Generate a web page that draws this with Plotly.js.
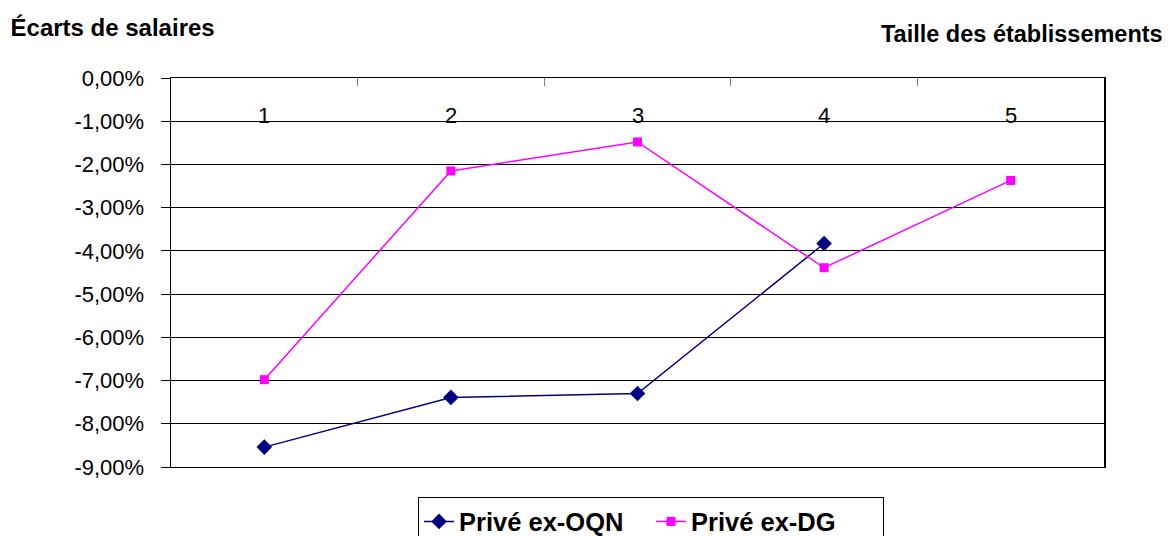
<!DOCTYPE html>
<html>
<head>
<meta charset="utf-8">
<script src="https://cdn.plot.ly/plotly-3.0.1.min.js"></script>
<style>html,body{margin:0;padding:0;background:#fff;}#chart{width:1171px;height:536px;}</style>
</head>
<body>
<div id="chart"></div>
<script>
const categories = ['1', '2', '3', '4', '5'];
const exOQN = [-8.54, -7.39, -7.30, -3.83, null];
const exDG = [-6.98, -2.15, -1.48, -4.39, -2.37];
const seriesNames = ['Privé ex-OQN', 'Privé ex-DG'];
const yTicks = [0, -1, -2, -3, -4, -5, -6, -7, -8, -9];
const yTickText = yTicks.map(v => v.toFixed(2).replace('.', ',') + '%');
const categoryLabelLevel = -1;

const font = 'Liberation Sans, Arial, sans-serif';

const traces = [
  {
    x: categories, y: exOQN, name: seriesNames[0], type: 'scatter', mode: 'lines+markers',
    line: {color: '#000080', width: 1.5},
    marker: {symbol: 'diamond', size: 12, color: '#000080'}
  },
  {
    x: categories, y: exDG, name: seriesNames[1], type: 'scatter', mode: 'lines+markers',
    line: {color: '#FF00FF', width: 1.5},
    marker: {symbol: 'square', size: 9, color: '#FF00FF'}
  }
];

const catAnnotations = categories.map((c, i) => ({
  text: c, xref: 'x', yref: 'y', x: i, y: categoryLabelLevel,
  xanchor: 'center', yanchor: 'bottom', yshift: -9, showarrow: false,
  font: {family: font, size: 22, color: '#000000'}
}));

const layout = {
  width: 1171, height: 536,
  margin: {l: 171, r: 67, t: 77.5, b: 68.5, autoexpand: false},
  paper_bgcolor: '#ffffff', plot_bgcolor: '#ffffff',
  font: {family: font, color: '#000000', size: 20},
  title: {
    text: '<b>Écarts de salaires</b>',
    font: {family: font, size: 24, color: '#000000'},
    x: 0.009, xref: 'container', xanchor: 'left',
    y: 0.948, yref: 'container', yanchor: 'middle'
  },
  annotations: [{
    text: '<b>Taille des établissements</b>',
    xref: 'paper', yref: 'paper', x: 1.065, y: 1.113,
    xanchor: 'right', yanchor: 'middle', showarrow: false,
    font: {family: font, size: 23.5, color: '#000000'}
  }].concat(catAnnotations),
  xaxis: {
    type: 'category',
    range: [-0.5, 4.5],
    side: 'top',
    showticklabels: false,
    ticks: 'inside', ticklen: 8, tickcolor: '#808080', tickwidth: 1,
    tickson: 'boundaries',
    showgrid: false, zeroline: false,
    showline: true, linecolor: '#000000', linewidth: 1, mirror: true
  },
  yaxis: {
    range: [-9, 0],
    tickvals: yTicks, ticktext: yTickText,
    ticks: 'outside', ticklen: 9, tickcolor: '#000000', tickwidth: 1,
    ticklabelstandoff: 12,
    showgrid: true, gridcolor: '#000000', gridwidth: 1,
    zeroline: false,
    showline: true, linecolor: '#000000', linewidth: 1.5, mirror: true,
    tickfont: {family: font, size: 22, color: '#000000'}
  },
  showlegend: true,
  legend: {
    orientation: 'h',
    x: 0.5145, xanchor: 'center',
    y: -0.078, yanchor: 'top',
    bordercolor: '#000000', borderwidth: 1,
    bgcolor: '#ffffff',
    font: {family: font, size: 25.5, color: '#000000', weight: 'bold'},
    itemwidth: 30,
    entrywidth: 187
  }
};

Plotly.newPlot('chart', traces, layout, {displayModeBar: false, staticPlot: true});
</script>
</body>
</html>
